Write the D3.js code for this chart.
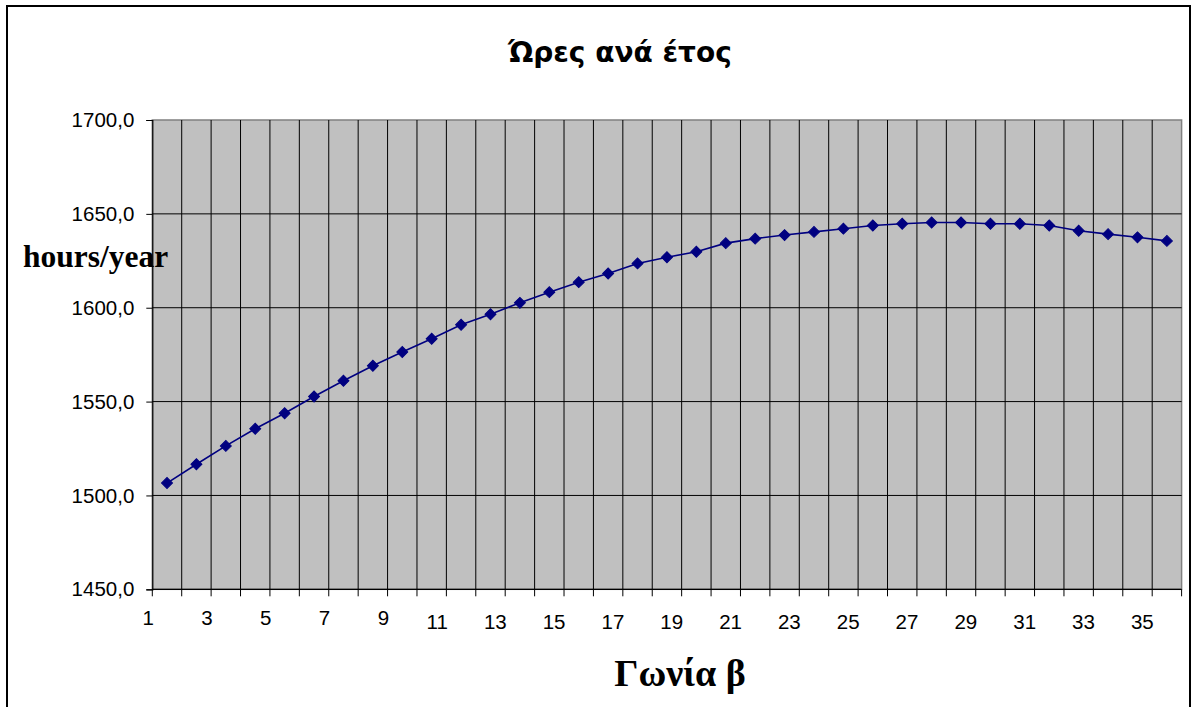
<!DOCTYPE html>
<html>
<head>
<meta charset="utf-8">
<script src="https://cdn.jsdelivr.net/npm/d3@7"></script>
<style>
  html, body { margin: 0; padding: 0; background: #fff; }
  svg { display: block; }
</style>
</head>
<body>
<svg id="chart" width="1198" height="707"></svg>
<script>
// Tilt angle categories (Γωνία β) and annual hours for each
const categories = d3.range(1, 36);
const hoursPerYear = [
  1506.6, 1516.6, 1526.4, 1535.5, 1543.8, 1552.7, 1561.1, 1569.1, 1576.4, 1583.5,
  1590.9, 1596.5, 1602.6, 1608.3, 1613.6, 1618.2, 1623.6, 1626.9, 1629.8, 1634.4,
  1636.8, 1638.7, 1640.4, 1642.1, 1643.8, 1644.7, 1645.4, 1645.4, 1644.7, 1644.7,
  1643.8, 1641.0, 1639.2, 1637.5, 1635.6
];
const yTicks = [1450, 1500, 1550, 1600, 1650, 1700];
const xTickLabels = categories.filter(c => c % 2 === 1);

const titleText = "Ώρες ανά έτος";
const yTitleText = "hours/year";
const xTitleText = "Γωνία β";

const svg = d3.select("#chart");
const plot = { left: 152.3, right: 1181.6, top: 120, bottom: 589.3 };

const x = d3.scaleBand()
  .domain(categories)
  .range([plot.left, plot.right])
  .padding(0);

const y = d3.scaleLinear()
  .domain([1450, 1700])
  .range([plot.bottom, plot.top]);

const sans = "'Liberation Sans', Arial, sans-serif";
const serif = "'Liberation Serif', 'Times New Roman', serif";

// Chart area frame
svg.append("rect")
  .attr("x", 7).attr("y", 6)
  .attr("width", 1183).attr("height", 720)
  .attr("fill", "#fff")
  .attr("stroke", "#000")
  .attr("stroke-width", 2);

// Plot area background
svg.append("rect")
  .attr("x", plot.left).attr("y", plot.top)
  .attr("width", plot.right - plot.left)
  .attr("height", plot.bottom - plot.top)
  .attr("fill", "#c0c0c0")
  .attr("stroke", "#808080")
  .attr("stroke-width", 1.5);

// Vertical gridlines at category boundaries
const boundaries = categories.slice(1).map(c => x(c));
svg.append("g")
  .selectAll("line")
  .data(boundaries)
  .join("line")
  .attr("x1", d => d).attr("x2", d => d)
  .attr("y1", plot.top).attr("y2", plot.bottom)
  .attr("stroke", "#000")
  .attr("stroke-width", 1);

// Horizontal gridlines
svg.append("g")
  .selectAll("line")
  .data(yTicks.filter(v => v > 1450 && v < 1700))
  .join("line")
  .attr("x1", plot.left).attr("x2", plot.right)
  .attr("y1", d => y(d)).attr("y2", d => y(d))
  .attr("stroke", "#000")
  .attr("stroke-width", 1);

// Y axis
const yAxis = d3.axisLeft(y)
  .tickValues(yTicks)
  .tickSize(6)
  .tickPadding(12)
  .tickFormat(d => d3.format(".1f")(d).replace(".", ","));
const gy = svg.append("g")
  .attr("transform", `translate(${plot.left},0)`)
  .call(yAxis);
gy.select(".domain").attr("stroke", "#000").attr("stroke-width", 1.2);
gy.selectAll(".tick line").attr("stroke", "#000");
gy.selectAll(".tick text")
  .attr("font-family", sans)
  .attr("font-size", 20.5)
  .attr("fill", "#000");

// X axis: ticks at category boundaries, labels right-aligned on the boundary
const xTickPositions = categories.map(c => x(c)).concat([plot.right]);
const gx = svg.append("g");
gx.append("line")
  .attr("x1", plot.left).attr("x2", plot.right)
  .attr("y1", plot.bottom).attr("y2", plot.bottom)
  .attr("stroke", "#000").attr("stroke-width", 1.2);
gx.selectAll("line.tick")
  .data(xTickPositions)
  .join("line")
  .attr("class", "tick")
  .attr("x1", d => d).attr("x2", d => d)
  .attr("y1", plot.bottom).attr("y2", plot.bottom + 7)
  .attr("stroke", "#000");
gx.selectAll("text")
  .data(xTickLabels)
  .join("text")
  .attr("x", d => x(d) + 1.5)
  .attr("y", d => String(d).length > 1 ? 629 : 625)
  .attr("text-anchor", "end")
  .attr("font-family", sans)
  .attr("font-size", 20.5)
  .attr("fill", "#000")
  .text(d => d);

// Series line
const line = d3.line()
  .x((d, i) => x(categories[i]) + x.bandwidth() / 2)
  .y(d => y(d));
svg.append("path")
  .datum(hoursPerYear)
  .attr("d", line)
  .attr("fill", "none")
  .attr("stroke", "#000080")
  .attr("stroke-width", 1.6);

// Diamond markers
const diamond = d3.symbol().type(d3.symbolSquare).size(60);
svg.append("g")
  .selectAll("path")
  .data(hoursPerYear)
  .join("path")
  .attr("d", diamond)
  .attr("transform", (d, i) =>
    `translate(${x(categories[i]) + x.bandwidth() / 2},${y(d)}) rotate(45)`)
  .attr("fill", "#000080")
  .attr("stroke", "#000080")
  .attr("stroke-width", 1);

// Titles
svg.append("text")
  .attr("x", 620).attr("y", 62)
  .attr("text-anchor", "middle")
  .attr("font-family", "'DejaVu Sans', Verdana, sans-serif")
  .attr("font-weight", "bold")
  .attr("font-size", 28)
  .attr("fill", "#000")
  .text(titleText);

svg.append("text")
  .attr("x", 23).attr("y", 267)
  .attr("font-family", serif)
  .attr("font-weight", "bold")
  .attr("font-size", 31.5)
  .attr("fill", "#000")
  .text(yTitleText);

svg.append("text")
  .attr("x", 680).attr("y", 686)
  .attr("text-anchor", "middle")
  .attr("font-family", serif)
  .attr("font-weight", "bold")
  .attr("font-size", 38)
  .attr("fill", "#000")
  .text(xTitleText);
</script>
</body>
</html>
